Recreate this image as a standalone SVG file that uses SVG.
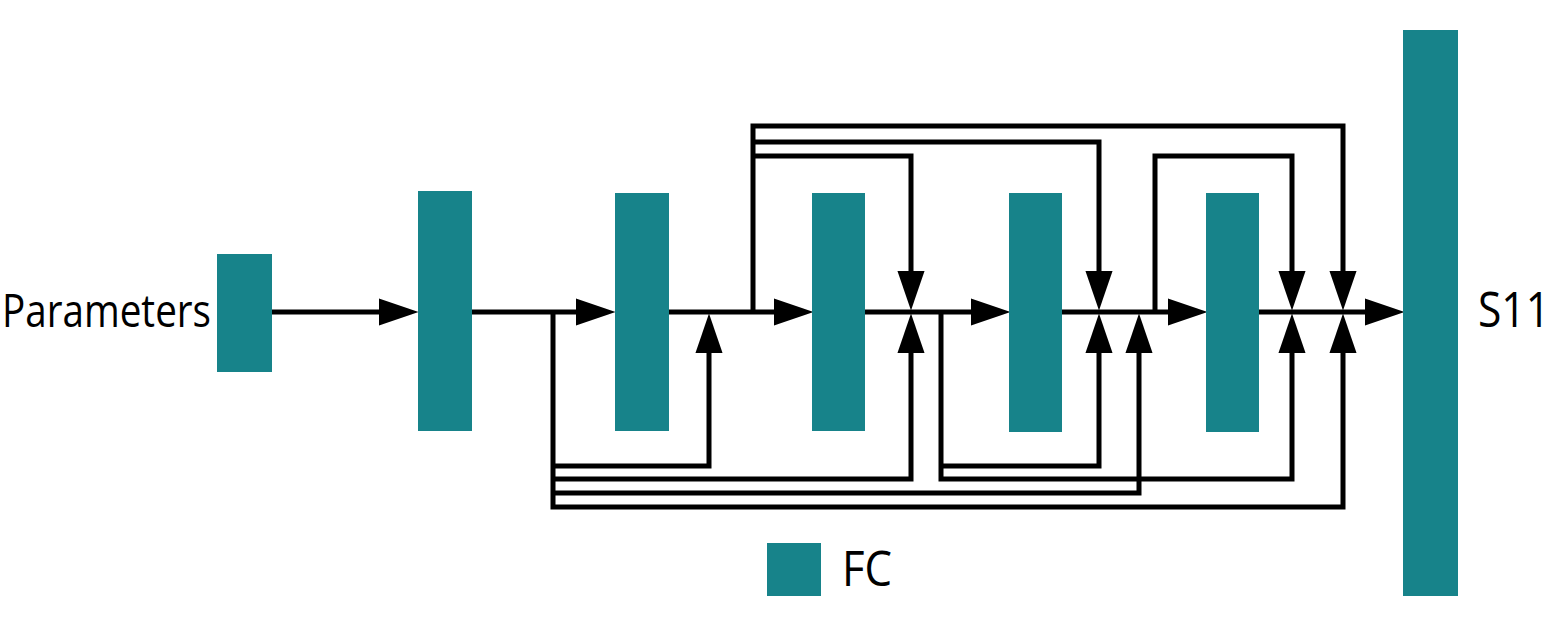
<svg xmlns="http://www.w3.org/2000/svg" width="1559" height="620" viewBox="0 0 1559 620">
  <style>
    .fc { fill: #17838A; }
    .conn { fill: none; stroke: #000; stroke-width: 5; stroke-linejoin: miter; stroke-linecap: butt; }
    .lbl { font-family: "Open Sans", "Noto Sans", "Liberation Sans", sans-serif; fill: #000; }
  </style>
  <defs>
    <marker id="arr" markerUnits="userSpaceOnUse" markerWidth="40" markerHeight="28" viewBox="0 0 38 26" refX="8" refY="13" orient="auto">
      <path d="M0,0 L38,13 L0,26 Z" fill="#000"/>
    </marker>
  </defs>
  <rect width="1559" height="620" fill="#fff"/>

  <g id="connectors">
    <!-- main chain -->
    <path class="conn" d="M272,312 H387" marker-end="url(#arr)"/>
    <path class="conn" d="M472,312 H584" marker-end="url(#arr)"/>
    <path class="conn" d="M669,312 H782" marker-end="url(#arr)"/>
    <path class="conn" d="M865,312 H979" marker-end="url(#arr)"/>
    <path class="conn" d="M1062,312 H1176" marker-end="url(#arr)"/>
    <path class="conn" d="M1259,312 H1373" marker-end="url(#arr)"/>
    <!-- top skip connections -->
    <path class="conn" d="M753,312 V126 H1343 V279" marker-end="url(#arr)"/>
    <path class="conn" d="M753,142 H1099 V279" marker-end="url(#arr)"/>
    <path class="conn" d="M753,156 H911 V279" marker-end="url(#arr)"/>
    <path class="conn" d="M1155,312 V156 H1292 V279" marker-end="url(#arr)"/>
    <!-- bottom skip connections -->
    <path class="conn" d="M553,312 V507 H1343 V345" marker-end="url(#arr)"/>
    <path class="conn" d="M553,466 H709 V345" marker-end="url(#arr)"/>
    <path class="conn" d="M553,479 H911 V345" marker-end="url(#arr)"/>
    <path class="conn" d="M553,493 H1139 V345" marker-end="url(#arr)"/>
    <path class="conn" d="M941,312 V479 H1292 V345" marker-end="url(#arr)"/>
    <path class="conn" d="M941,466 H1099 V345" marker-end="url(#arr)"/>
  </g>

  <g id="input">
    <text class="lbl" x="2" y="327" font-size="45" textLength="209" lengthAdjust="spacingAndGlyphs">Parameters</text>
  </g>
  <g id="fc0"><rect class="fc" x="217" y="254" width="55" height="118"/></g>
  <g id="fc1"><rect class="fc" x="418" y="191" width="54" height="240"/></g>
  <g id="fc2"><rect class="fc" x="615" y="193" width="54" height="238"/></g>
  <g id="fc3"><rect class="fc" x="812" y="193" width="53" height="238"/></g>
  <g id="fc4"><rect class="fc" x="1009" y="193" width="53" height="239"/></g>
  <g id="fc5"><rect class="fc" x="1206" y="193" width="53" height="239"/></g>
  <g id="output">
    <rect class="fc" x="1403" y="30" width="55" height="566"/>
    <text class="lbl" x="1478" y="327" font-size="49" textLength="72" lengthAdjust="spacingAndGlyphs">S11</text>
  </g>
  <g id="legend">
    <rect class="fc" x="767" y="543" width="54" height="53"/>
    <text class="lbl" x="842" y="586" font-size="49" textLength="50" lengthAdjust="spacingAndGlyphs">FC</text>
  </g>
</svg>
